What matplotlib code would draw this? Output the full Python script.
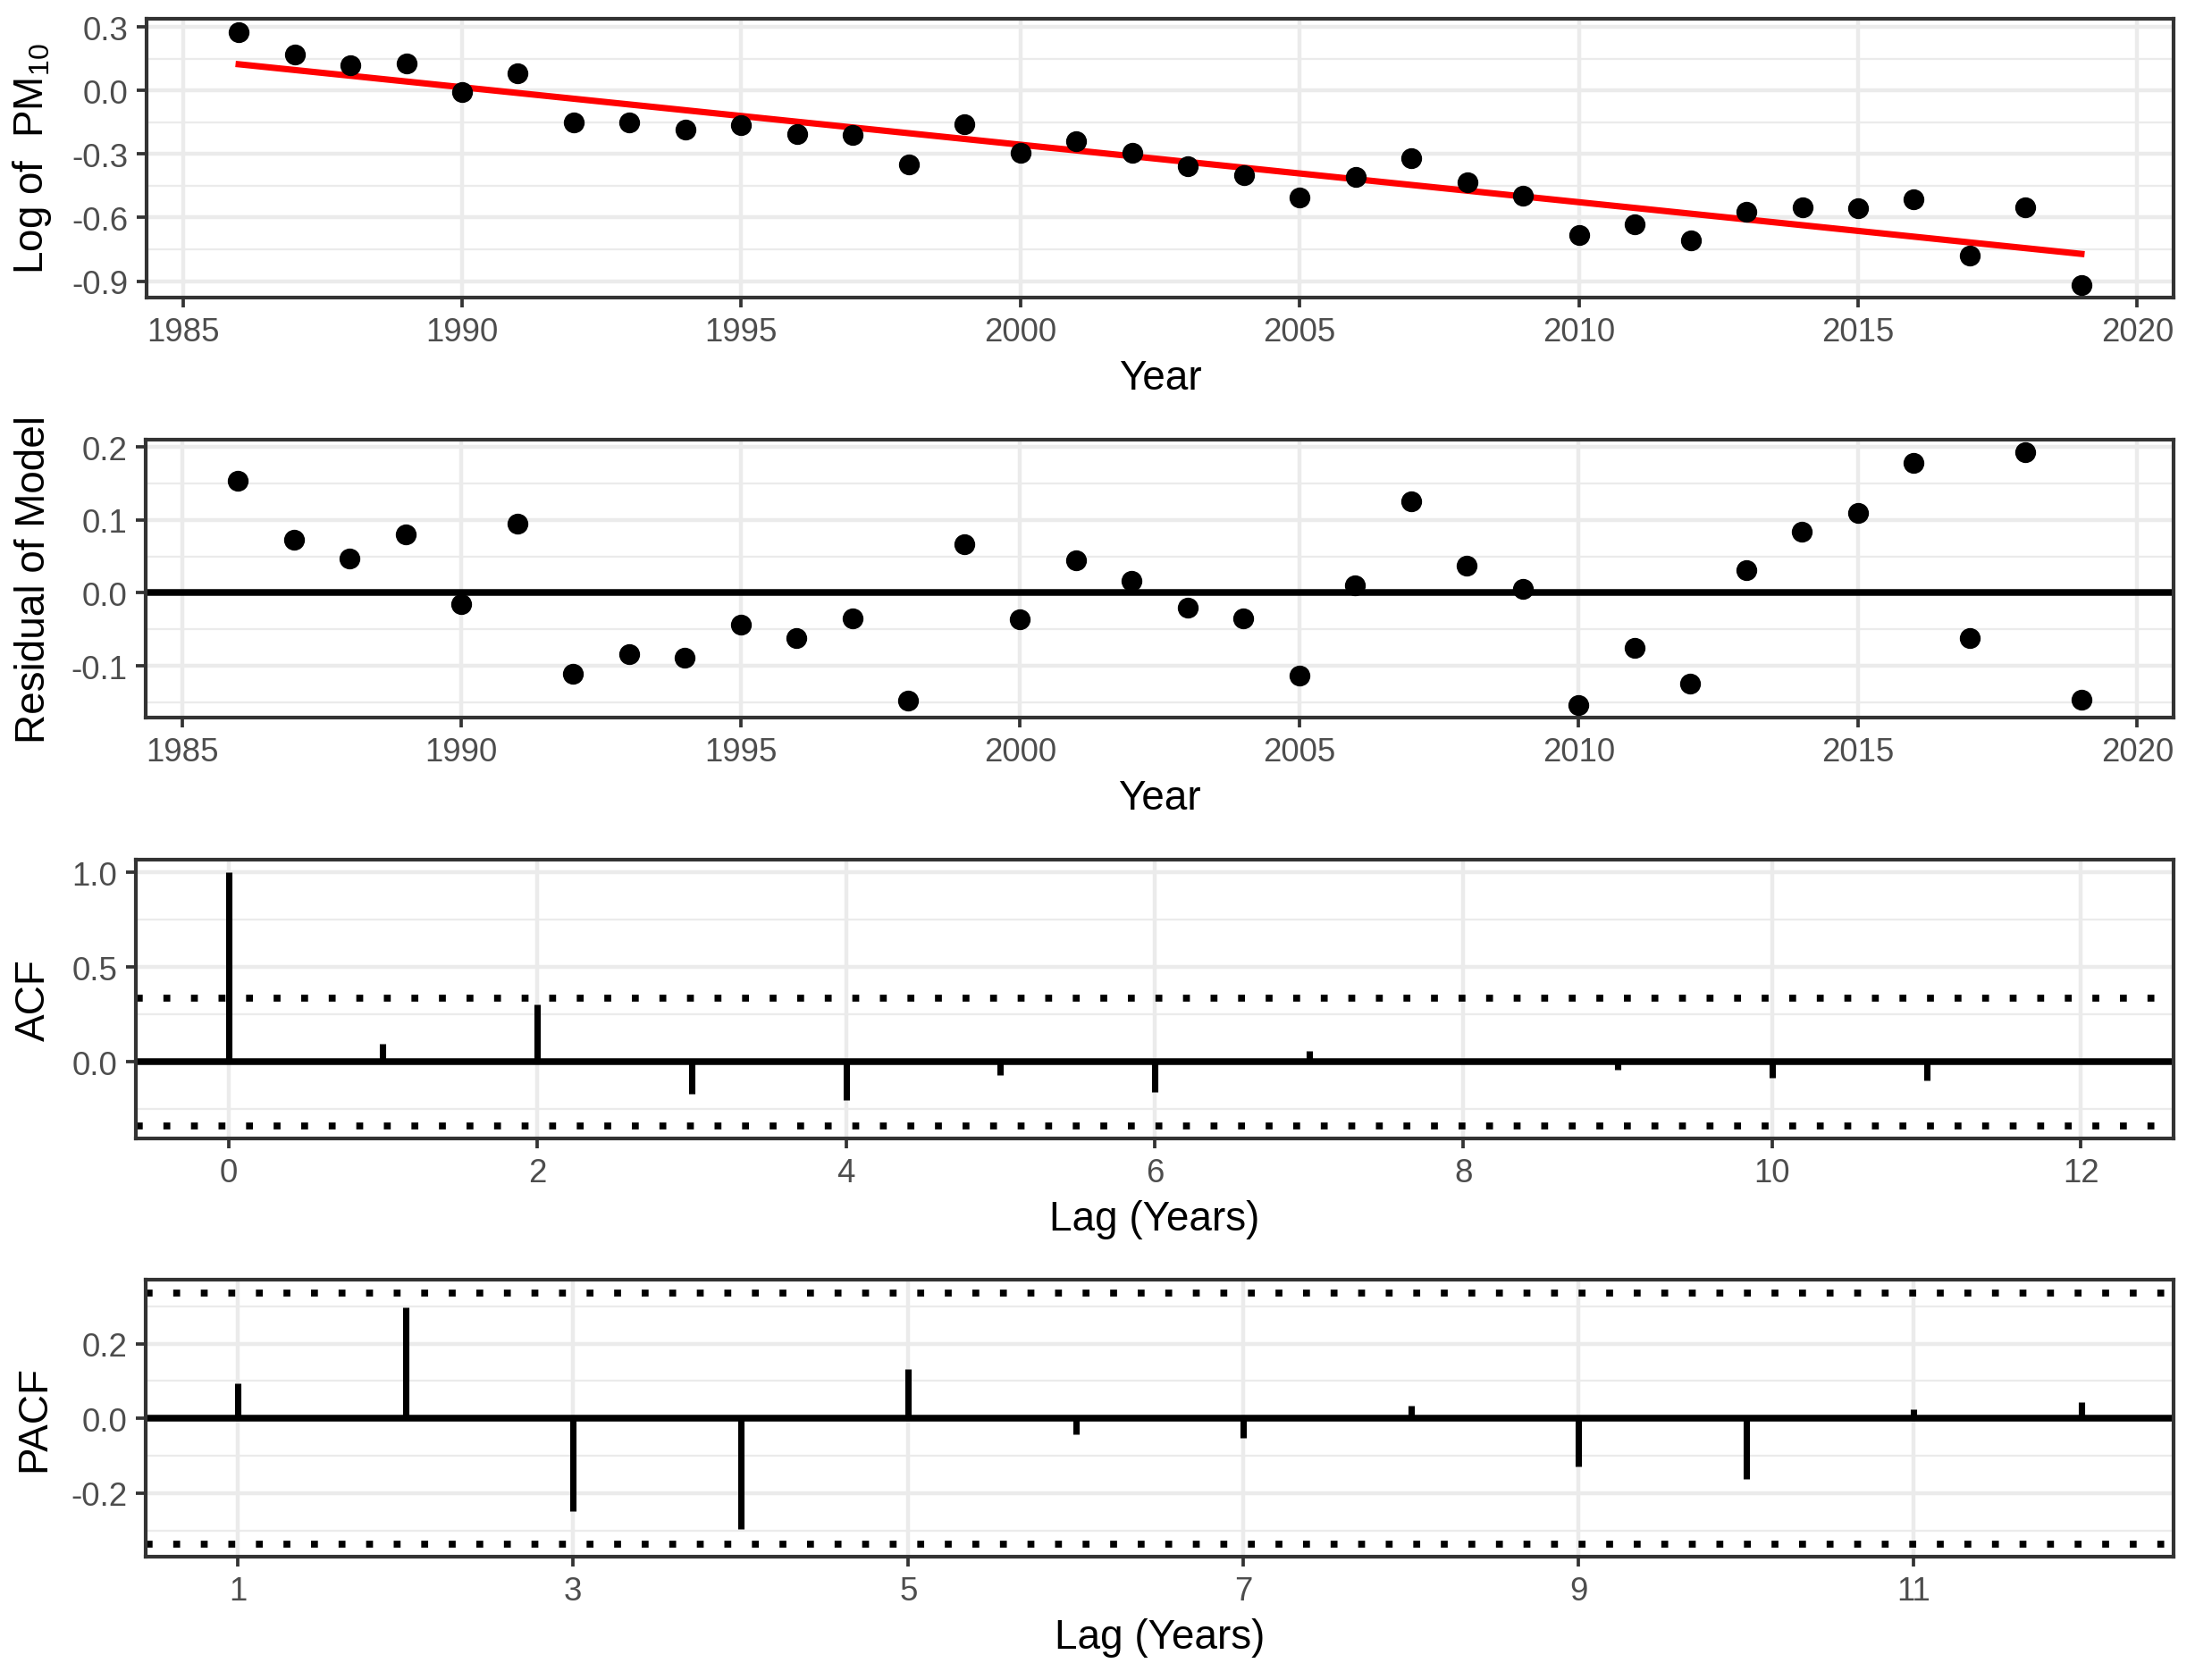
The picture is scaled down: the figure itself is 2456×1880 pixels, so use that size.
import numpy as np
import matplotlib.pyplot as plt
from matplotlib.ticker import FormatStrFormatter

plt.rcParams['font.family'] = ['Liberation Sans', 'DejaVu Sans']
plt.rcParams['mathtext.fontset'] = 'custom'
plt.rcParams['mathtext.rm'] = 'Liberation Sans'
plt.rcParams['mathtext.default'] = 'regular'
plt.rcParams['axes.unicode_minus'] = False

# data
years = np.arange(1986, 2020)
log_pm10 = [0.276, 0.170, 0.117, 0.127, -0.006, 0.082, -0.151, -0.151, -0.183, -0.165,
            -0.208, -0.211, -0.348, -0.161, -0.294, -0.238, -0.293, -0.358, -0.400, -0.506,
            -0.408, -0.320, -0.432, -0.496, -0.683, -0.632, -0.707, -0.575, -0.552, -0.556,
            -0.513, -0.780, -0.552, -0.918]
residuals = [0.154, 0.073, 0.047, 0.080, -0.016, 0.095, -0.111, -0.084, -0.089, -0.043,
             -0.062, -0.035, -0.148, 0.067, -0.036, 0.045, 0.016, -0.020, -0.035, -0.114,
             0.010, 0.126, 0.037, 0.005, -0.154, -0.076, -0.124, 0.031, 0.084, 0.110,
             0.178, -0.062, 0.193, -0.147]
acf_lags = np.arange(0, 13)
acf_vals = [1.0, 0.094, 0.305, -0.17, -0.20, -0.07, -0.16, 0.058, -0.01, -0.04,
            -0.083, -0.098, 0.008]
pacf_lags = np.arange(1, 13)
pacf_vals = [0.093, 0.298, -0.247, -0.296, 0.133, -0.042, -0.052, 0.033, -0.128,
             -0.163, 0.024, 0.043]
conf = 1.96 / np.sqrt(len(years))

W, H = 2456, 1881
fig = plt.figure(figsize=(W / 300, H / 300), dpi=300)

# panel boxes in pixels: left, top, bottom
boxes = [(164, 22, 334), (163, 493, 804), (152, 963, 1275), (163, 1433, 1743)]
right = 2432
axes = []
for l, t, b in boxes:
    axes.append(fig.add_axes([l / W, 1 - b / H, (right - l) / W, (b - t) / H]))

grid_c = '#EBEBEB'
dark = '#333333'


def style(ax, xlim, xticks, ylim, yticks, yminor, xlabel, ylabel):
    ax.set_xlim(xlim)
    ax.set_ylim(ylim)
    ax.set_xticks(xticks)
    ax.set_yticks(yticks)
    ax.set_yticks(yminor, minor=True)
    ax.yaxis.set_major_formatter(FormatStrFormatter('%.1f'))
    ax.grid(which='major', color=grid_c, lw=1.07)
    ax.grid(which='minor', axis='y', color=grid_c, lw=0.55)
    ax.set_axisbelow(True)
    ax.tick_params(which='minor', length=0)
    ax.tick_params(which='major', length=2.75, width=0.9, color=dark,
                   labelcolor='#4D4D4D', labelsize=8.8, pad=2.2)
    for s in ax.spines.values():
        s.set_color(dark)
        s.set_linewidth(1.0)
    ax.set_xlabel(xlabel, fontsize=11, color='black', labelpad=3)
    ax.set_ylabel(ylabel, fontsize=11, color='black')
    pos = ax.get_position()
    ax.yaxis.set_label_coords(60 / W, pos.y0 + pos.height / 2, transform=fig.transFigure)


# panel 1: log PM10 with linear trend
ax = axes[0]
slope, icpt = np.polyfit(years, log_pm10, 1)
ax.plot(years, icpt + slope * years, color='red', lw=1.7, zorder=2)
ax.plot(years, log_pm10, 'o', color='black', ms=4.6, zorder=3)
style(ax, (1984.35, 2020.65), range(1985, 2021, 5), (-0.978, 0.338),
      [-0.9, -0.6, -0.3, 0.0, 0.3], [-0.75, -0.45, -0.15, 0.15],
      'Year', 'Log of  PM$_{10}$')

# panel 2: residuals
ax = axes[1]
ax.axhline(0, color='black', lw=1.8, zorder=2)
ax.plot(years, residuals, 'o', color='black', ms=4.6, zorder=3)
style(ax, (1984.35, 2020.65), range(1985, 2021, 5), (-0.171, 0.210),
      [-0.1, 0.0, 0.1, 0.2], [-0.15, -0.05, 0.05, 0.15],
      'Year', 'Residual of Model')

# panel 3: ACF
ax = axes[2]
ax.axhline(0, color='black', lw=1.8, zorder=2)
ax.vlines(acf_lags, 0, acf_vals, color='black', lw=1.7, zorder=2)
for c in (conf, -conf):
    ax.axhline(c, color='black', lw=1.85, linestyle=(0, (1, 3)),
               dash_capstyle='butt', zorder=2)
style(ax, (-0.6, 12.6), range(0, 13, 2), (-0.404, 1.067),
      [0.0, 0.5, 1.0], [-0.25, 0.25, 0.75],
      'Lag (Years)', 'ACF')

# panel 4: PACF
ax = axes[3]
ax.axhline(0, color='black', lw=1.8, zorder=2)
ax.vlines(pacf_lags, 0, pacf_vals, color='black', lw=1.7, zorder=2)
for c in (conf, -conf):
    ax.axhline(c, color='black', lw=1.85, linestyle=(0, (1, 3)),
               dash_capstyle='butt', zorder=2)
style(ax, (0.45, 12.55), range(1, 13, 2), (-0.37, 0.371),
      [-0.2, 0.0, 0.2], [-0.3, -0.1, 0.1, 0.3],
      'Lag (Years)', 'PACF')

fig.savefig('out.png', dpi=300)
